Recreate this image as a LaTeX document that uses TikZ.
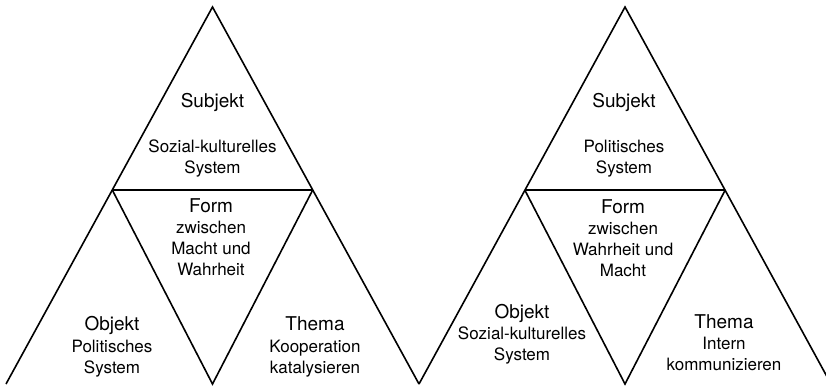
\documentclass[tikz,border=0pt]{standalone}
\usepackage{fontspec}
\setmainfont{TeX Gyre Heros}
\begin{document}
\begin{tikzpicture}[x=1pt,y=-1pt,
  edge/.style={line width=1.6pt, line join=miter},
  head/.style={font=\fontsize{19}{21}\selectfont, anchor=base, inner sep=0pt},
  % body blocks hang from the top of their first line (about 12.3pt above its baseline)
  body/.style={font=\fontsize{17}{21}\selectfont, align=center, anchor=north, inner sep=0pt}]
\useasboundingbox (0,0) rectangle (826,385);
\clip (0,0) rectangle (826,385);

% corner points of the left triangle
\coordinate (LA)  at (212.5,7);
\coordinate (LML) at (112.3,190);
\coordinate (LMR) at (312.7,190);
\coordinate (LBL) at (6,384);
\coordinate (LBC) at (212.5,384);
\coordinate (LBR) at (419,384);

% corner points of the right triangle
\coordinate (RA)  at (625,7);
\coordinate (RML) at (524.8,190);
\coordinate (RMR) at (725.2,190);
\coordinate (RBL) at (419,384);
\coordinate (RBC) at (625,384);
\coordinate (RBR) at (831,384);

% outlines
\draw[edge] (LBL) -- (LA) -- (LBR);
\draw[edge] (LML) -- (LMR);
\draw[edge] (LML) -- (LBC) -- (LMR);
\draw[edge] (RBL) -- (RA) -- (RBR);
\draw[edge] (RML) -- (RMR);
\draw[edge] (RML) -- (RBC) -- (RMR);

% labels, left triangle
\node[head] (ls)  at (212.5,107) {Subjekt};
\node[body] (lsb) at (212.5,139.7) {Sozial-kulturelles\\System};
\node[head] (lf)  at (211,212) {Form};
\node[body] (lfb) at (211,220.7) {zwischen\\Macht und\\Wahrheit};
\node[head] (lo)  at (112,330) {Objekt};
\node[body] (lob) at (112,339.7) {Politisches\\System};
\node[head] (lt)  at (315,330) {Thema};
\node[body] (ltb) at (315,339.7) {Kooperation\\katalysieren};

% labels, right triangle
\node[head] (rs)  at (624,107) {Subjekt};
\node[body] (rsb) at (624,139.7) {Politisches\\System};
\node[head] (rf)  at (623,213) {Form};
\node[body] (rfb) at (623,221.7) {zwischen\\Wahrheit und\\Macht};
\node[head] (ro)  at (522,318) {Objekt};
\node[body] (rob) at (522,326.7) {Sozial-kulturelles\\System};
\node[head] (rt)  at (724,328) {Thema};
\node[body] (rtb) at (724,336.7) {Intern\\kommunizieren};
\end{tikzpicture}
\end{document}
